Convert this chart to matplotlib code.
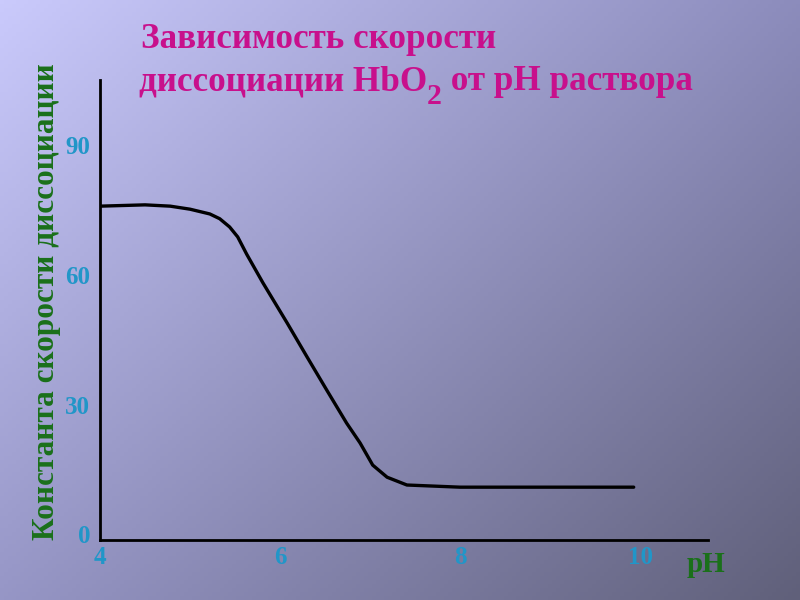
import numpy as np
import matplotlib
matplotlib.use("Agg")
from matplotlib import pyplot as plt
from matplotlib import transforms

plt.rcParams['font.family'] = ['Liberation Serif', 'DejaVu Serif']
plt.rcParams['font.weight'] = 'bold'

# Данные кривой (pH -> константа скорости диссоциации)
ph = [4.0, 4.5, 4.78, 5.0, 5.22, 5.33, 5.44, 5.53, 5.63, 5.81, 6.08, 6.3, 6.52,
      6.74, 6.89, 7.03, 7.19, 7.41, 8.0, 9.93]
k_diss = [77.1, 77.4, 77.1, 76.4, 75.3, 74.2, 72.3, 70.0, 66.0, 59.4, 50.1, 42.3, 34.6,
          27.0, 22.4, 17.3, 14.5, 12.7, 12.2, 12.2]

x_ticks = [4, 6, 8, 10]
y_ticks = [0, 30, 60, 90]

title_color = '#C8108C'
label_color = '#1A701A'
tick_color = '#2196C8'

fig = plt.figure(figsize=(8, 6), dpi=100)

# фон - градиент
bg = fig.add_axes([0, 0, 1, 1], zorder=0)
tl = np.array([202, 202, 252]) / 255
tr = np.array([140, 140, 188]) / 255
bl = np.array([150, 150, 198]) / 255
br = np.array([96, 96, 122]) / 255
u = np.linspace(0, 1, 200)[None, :, None]
v = np.linspace(0, 1, 150)[:, None, None]
grad = (1 - v) * ((1 - u) * tl + u * tr) + v * ((1 - u) * bl + u * br)
bg.imshow(grad, aspect='auto', extent=[0, 1, 0, 1])
bg.axis('off')

ax = fig.add_axes([100 / 800, 60 / 600, 608 / 800, 460 / 600], zorder=1)
ax.set_facecolor('none')
ax.plot(ph, k_diss, color='black', linewidth=2.4, solid_capstyle='round',
        solid_joinstyle='round')

ax.set_xlim(4, 4 + 608 / 90)
ax.set_ylim(0, 460 / 4.33)
for s in ['top', 'right']:
    ax.spines[s].set_visible(False)
for s in ['left', 'bottom']:
    ax.spines[s].set_linewidth(2)
    ax.spines[s].set_color('black')

ax.set_xticks(x_ticks)
ax.set_yticks(y_ticks)
ax.tick_params(length=0, labelsize=18, labelcolor=tick_color)
ax.tick_params(axis='x', pad=4)
ax.tick_params(axis='y', pad=7)
for lbl in ax.get_yticklabels():
    lbl.set_transform(lbl.get_transform() + transforms.ScaledTranslation(0, 4 / 72, fig.dpi_scale_trans))

fig.text(47 / 800, 1 - 302 / 600, 'Константа скорости диссоциации', rotation=90,
         ha='center', va='center', fontsize=22.5, color=label_color)
fig.text(706 / 800, 1 - 565 / 600, 'pH', ha='center', va='center',
         fontsize=21, color=label_color)

# заголовок
fig.text(141 / 800, 1 - 40 / 600, 'Зависимость скорости', ha='left', va='center',
         fontsize=25.3, color=title_color)
renderer = fig.canvas.get_renderer()
t1 = fig.text(139 / 800, 1 - 82 / 600, 'диссоциации HbO', ha='left',
              va='center', fontsize=25.3, color=title_color)
bb = t1.get_window_extent(renderer)
t2 = fig.text(bb.x1 / 800, 1 - 96 / 600, '2', ha='left', va='center',
              fontsize=21.5, color=title_color)
bb2 = t2.get_window_extent(renderer)
fig.text(bb2.x1 / 800, 1 - 82 / 600, ' от pH раствора', ha='left',
         va='center', fontsize=25.3, color=title_color)

plt.savefig('out.png', dpi=100)
